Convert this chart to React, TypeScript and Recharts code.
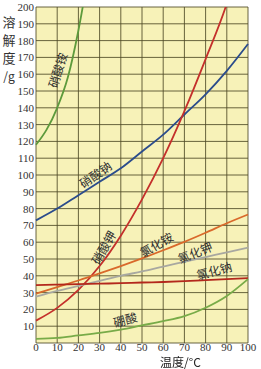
import { LineChart, Line, XAxis, YAxis, CartesianGrid, ReferenceDot } from 'recharts';

// temperature (°C) and solubility (g)
const temps = [0, 10, 20, 30, 40, 50, 60, 70, 80, 90, 100];
const nh4no3Temps = [0, 5, 10, 15, 20, 25];
const nh4no3 = [118, 127, 140, 158, 186, 222];
const nano3 = [73, 80, 88, 96, 104, 114, 124, 136, 148, 162, 178];
const kno3 = [13.3, 20.9, 31.6, 45.8, 63.9, 85.5, 110, 138, 169, 202, 246];
const nh4cl = [29.4, 33.3, 37.2, 41.4, 45.8, 50.4, 55.2, 60.2, 65.6, 71.3, 76.5];
const kcl = [27.6, 31, 34, 37, 40, 42.6, 45.5, 48.3, 51.1, 54, 56.7];
const nacl = [34.5, 34.8, 35, 35.3, 35.6, 36, 36.3, 36.8, 37.4, 38, 38.6];
const h3bo3 = [2.5, 3, 4.5, 6, 8, 10.5, 13, 16, 21, 28, 38];

const xTicks = [0, 10, 20, 30, 40, 50, 60, 70, 80, 90, 100];
const yTicks = [0, 10, 20, 30, 40, 50, 60, 70, 80, 90, 100, 110, 120, 130, 140, 150, 160, 170, 180, 190, 200];

// curve names placed along the curves
const labelNames = ['硝酸铵', '硝酸钠', '硝酸钾', '氯化铵', '氯化钾', '氯化钠', '硼酸'];
const labelX = [9.9, 27.8, 31.6, 56.6, 75, 84, 42];
const labelY = [162.5, 100.6, 57, 58.9, 54.2, 43.5, 14.3];
const labelAngle = [-72, -35, -60, -30, -22, -15, -15];

const yTitle = ['溶', '解', '度', '/g'];

const toPoints = (xs: number[], ys: number[]) => xs.map((x, i) => ({ x, y: ys[i] }));

const series = [
  { name: 'nh4no3', data: toPoints(nh4no3Temps, nh4no3), color: '#5d9a3c' },
  { name: 'nano3', data: toPoints(temps, nano3), color: '#2b4c8c' },
  { name: 'kno3', data: toPoints(temps, kno3), color: '#c4302b' },
  { name: 'nh4cl', data: toPoints(temps, nh4cl), color: '#d9692b' },
  { name: 'kcl', data: toPoints(temps, kcl), color: '#a8a8a0' },
  { name: 'nacl', data: toPoints(temps, nacl), color: '#b3281c' },
  { name: 'h3bo3', data: toPoints(temps, h3bo3), color: '#78ab48' },
];

const tickStyle = { fontFamily: '"Liberation Serif", "DejaVu Serif", serif', fontSize: 11, fill: '#333' };
const cjk = '"Noto Sans CJK SC", sans-serif';

export default function App() {
  return (
    <div style={{ position: 'fixed', left: 0, top: 0, width: 261, height: 369, background: '#fff' }}>
      <LineChart width={261} height={369} margin={{ top: 7, right: 13, left: 0, bottom: 0 }}>
        <CartesianGrid fill="#f7f2b8" stroke="#4f4a26" strokeWidth={1} strokeOpacity={0.85} />
        <XAxis
          type="number"
          dataKey="x"
          domain={[0, 100]}
          ticks={xTicks}
          height={26}
          axisLine={false}
          tickLine={false}
          tickSize={0}
          tickMargin={0}
          tick={tickStyle}
          interval={0}
        />
        <YAxis
          type="number"
          domain={[0, 200]}
          ticks={yTicks}
          width={36}
          allowDataOverflow
          axisLine={false}
          tickLine={false}
          tickSize={0}
          tickMargin={2}
          tick={tickStyle}
          interval={0}
          tickFormatter={(v: number) => (v === 0 ? '' : String(v))}
        />
        {series.map((s) => (
          <Line
            key={s.name}
            data={s.data}
            dataKey="y"
            type="monotone"
            stroke={s.color}
            strokeWidth={1.8}
            dot={false}
            isAnimationActive={false}
          />
        ))}
        {labelNames.map((n, i) => (
          <ReferenceDot
            key={n}
            x={labelX[i]}
            y={labelY[i]}
            r={0}
            shape={(p: any) => (
              <text
                x={p.cx}
                y={p.cy}
                textAnchor="middle"
                dominantBaseline="central"
                transform={`rotate(${labelAngle[i]} ${p.cx} ${p.cy})`}
                fontFamily={cjk}
                fontSize={12}
                fill="#2e2e2e"
              >
                {n}
              </text>
            )}
          />
        ))}
      </LineChart>
      {yTitle.map((t, i) => (
        <div
          key={t}
          style={{
            position: 'absolute',
            left: 0,
            top: 14 + i * 18,
            width: 18,
            height: 16,
            fontFamily: cjk,
            fontSize: i === 3 ? 12 : 13,
            lineHeight: '16px',
            color: '#333',
            textAlign: 'center',
          }}
        >
          {t}
        </div>
      ))}
      <div
        style={{
          position: 'absolute',
          left: 160,
          top: 356,
          fontFamily: cjk,
          fontSize: 12,
          lineHeight: '12px',
          color: '#222',
          whiteSpace: 'nowrap',
        }}
      >
        温度/°C
      </div>
    </div>
  );
}
